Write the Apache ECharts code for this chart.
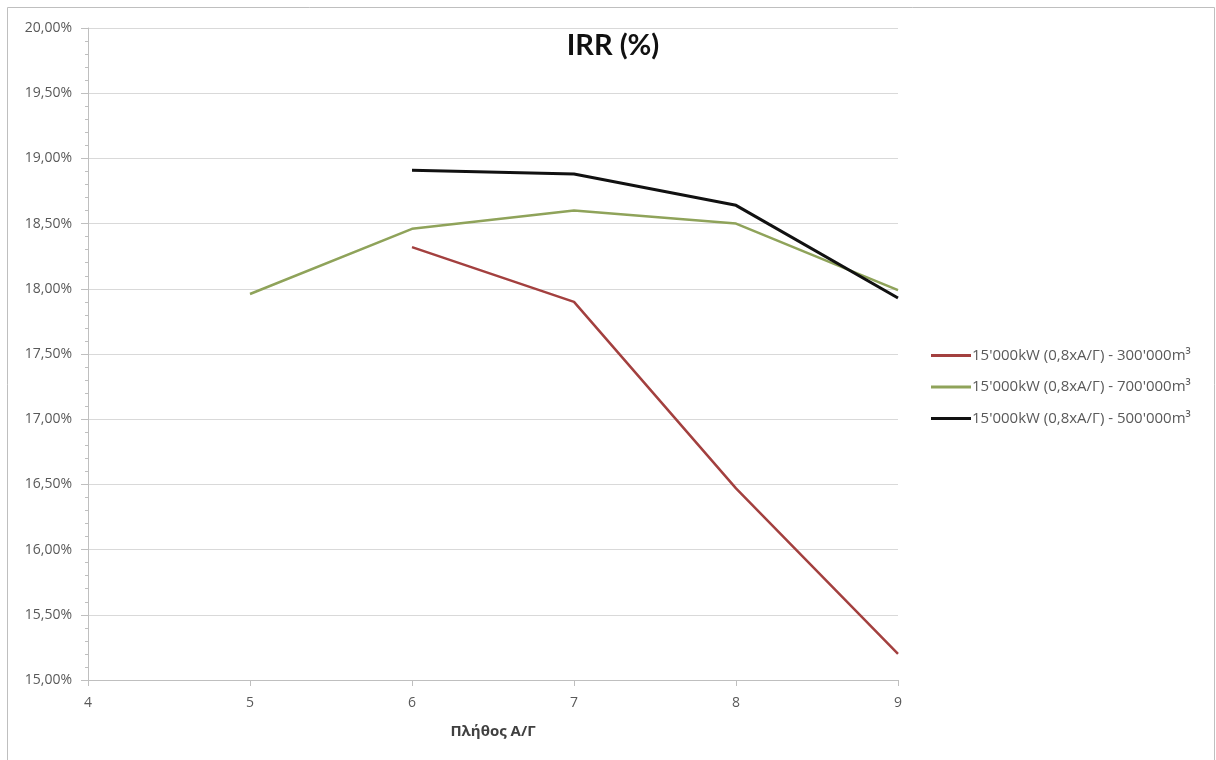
<!DOCTYPE html>
<html>
<head>
<meta charset="utf-8">
<script src="https://cdn.jsdelivr.net/npm/echarts@6/dist/echarts.min.js"></script>
<style>
  html, body { margin: 0; padding: 0; background: #ffffff; }
  #chart { width: 1216px; height: 760px; }
</style>
</head>
<body>
<div id="chart"></div>
<script>
// Number of units (x) and IRR in percent for each configuration
const units = [5, 6, 7, 8, 9];
const irr300 = [null, 18.32, 17.90, 16.47, 15.20];
const irr700 = [17.96, 18.46, 18.60, 18.50, 17.99];
const irr500 = [null, 18.91, 18.88, 18.64, 17.93];

const seriesNames = [
  "15'000kW (0,8xA/Γ) - 300'000m³",
  "15'000kW (0,8xA/Γ) - 700'000m³",
  "15'000kW (0,8xA/Γ) - 500'000m³"
];
const seriesColors = ['#a3403f', '#8fa35a', '#111111'];
const seriesWidths = [2.5, 2.5, 3];

const xMin = 4, xMax = 9;
const yMin = 15, yMax = 20, yStep = 0.5;

function pairs(vals) {
  return units.map((u, i) => [u, vals[i]]).filter(p => p[1] !== null);
}

const chart = echarts.init(document.getElementById('chart'), null, { renderer: 'canvas' });

const titleFont = 'Lato, "Open Sans", sans-serif';
const textFont = '"Open Sans", Lato, sans-serif';

chart.setOption({
  animation: false,
  backgroundColor: '#ffffff',
  title: {
    text: 'IRR (%)',
    left: 608,
    textAlign: 'center',
    top: 26,
    textStyle: { fontFamily: titleFont, fontWeight: 'bold', fontSize: 29, color: '#111111' }
  },
  graphic: [{
    type: 'rect',
    shape: { x: 7.5, y: 7.5, width: 1207, height: 760 },
    style: { fill: 'none', stroke: '#bfbfbf', lineWidth: 1 },
    silent: true
  }],
  grid: { left: 88, right: 318, top: 28, bottom: 80 },
  legend: {
    orient: 'vertical',
    left: 926,
    top: 343,
    itemGap: 16.5,
    itemWidth: 40,
    itemHeight: 3,
    icon: 'rect',
    textStyle: { fontFamily: textFont, fontSize: 15, color: '#595959', padding: [0, 0, 0, -4] },
    data: seriesNames
  },
  xAxis: {
    type: 'value',
    min: xMin,
    max: xMax,
    interval: 1,
    name: 'Πλήθος Α/Γ',
    nameLocation: 'middle',
    nameGap: 44,
    nameTextStyle: { fontFamily: textFont, fontWeight: 'bold', fontSize: 15, color: '#404040' },
    axisLine: { show: true, lineStyle: { color: '#bfbfbf', width: 1 } },
    axisTick: { show: true, inside: false, length: 6, lineStyle: { color: '#bfbfbf' } },
    axisLabel: { margin: 16, fontFamily: textFont, fontSize: 14, color: '#595959' },
    splitLine: { show: false }
  },
  yAxis: {
    type: 'value',
    min: yMin,
    max: yMax,
    interval: yStep,
    axisLine: { show: true, lineStyle: { color: '#bfbfbf', width: 1 } },
    axisTick: { show: true, length: 7, lineStyle: { color: '#bfbfbf' } },
    minorTick: { show: true, splitNumber: 5, length: 3, lineStyle: { color: '#bfbfbf' } },
    axisLabel: {
      margin: 16,
      fontFamily: textFont,
      fontSize: 14,
      color: '#595959',
      formatter: v => v.toFixed(2).replace('.', ',') + '%'
    },
    splitLine: { show: true, lineStyle: { color: '#d9d9d9', width: 1 } }
  },
  series: [irr300, irr700, irr500].map((vals, i) => ({
    name: seriesNames[i],
    type: 'line',
    data: pairs(vals),
    symbol: 'none',
    lineStyle: { color: seriesColors[i], width: seriesWidths[i] },
    itemStyle: { color: seriesColors[i] },
    z: i === 2 ? 4 : 3
  }))
});
</script>
</body>
</html>
